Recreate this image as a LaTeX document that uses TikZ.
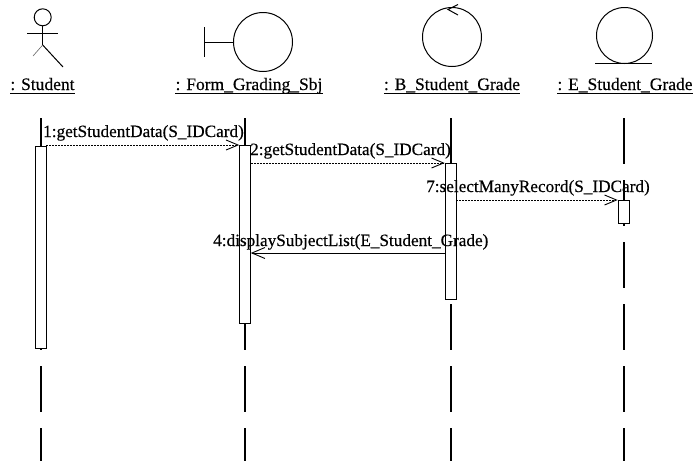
\documentclass[tikz,border=0pt]{standalone}
\usepackage{fontspec}
\setmainfont{Liberation Serif}
\newfontfamily\scanfont{Liberation Serif}[FakeBold=0.4]
\usetikzlibrary{arrows.meta}
\begin{document}
\begin{tikzpicture}[x=1pt,y=-1pt,
  lifeline/.style={line width=1.6pt, dash pattern=on 46pt off 16pt},
  actbox/.style={draw, line width=0.6pt, fill=white, minimum width=11pt, inner sep=0pt, anchor=north},
  icon/.style={line width=1pt},
  msgdash/.style={line width=0.7pt, dash pattern=on 2pt off 1pt, -{Straight Barb[length=12pt,width=10pt,line width=0.9pt]}},
  msgsolid/.style={line width=1pt, -{Straight Barb[length=13pt,width=11pt,line width=0.9pt]}},
  lbl/.style={font=\scanfont\fontsize{17.2}{19}\selectfont, inner sep=0pt, anchor=base west},
  hdr/.style={font=\scanfont\fontsize{17.5}{19}\selectfont, inner sep=0pt, anchor=base}]
\useasboundingbox (0,0) rectangle (697,461);

% ---- header icons ----
% actor
\draw[icon] (42.7,17.3) circle (8.5);
\draw[icon] (27,33) -- (58,33);
\draw[icon] (42.7,26) -- (42.7,45);
\draw[icon] (42.7,45) -- (63,67);
\draw[line width=0.6pt, black!60] (42.7,45) -- (33,56);
% boundary
\draw[icon] (263,42) circle (29.5);
\draw[icon] (204,27) -- (204,57);
\draw[line width=0.8pt] (204,42) -- (233.5,42);
% control
\draw[icon] (452,37) circle (29.5);
\draw[icon] (458,4.5) -- (448,9.5) -- (458,15);
% entity
\draw[icon] (624.5,35.5) circle (28);
\draw[icon] (595,63.5) -- (652,63.5);

% ---- header labels ----
\node[hdr] (nS) at (42.5,90) {: Student};
\node[hdr] (nF) at (249,90) {: Form\_Grading\_Sbj};
\node[hdr] (nB) at (452,90) {: B\_Student\_Grade};
\node[hdr] (nE) at (625,90) {: E\_Student\_Grade};
\foreach \n in {nS,nF,nB,nE}
  \draw[line width=0.8pt] ([yshift=-3pt]\n.base west) -- ([yshift=-3pt]\n.base east);

% ---- lifelines ----
\coordinate (sT) at (41,118);  \coordinate (sB) at (41,461);
\coordinate (fT) at (245,118); \coordinate (fB) at (245,461);
\coordinate (bT) at (451,118); \coordinate (bB) at (451,461);
\coordinate (eT) at (624,118); \coordinate (eB) at (624,461);
\draw[lifeline] (sT) -- (sB);
\draw[lifeline] (fT) -- (fB);
\draw[lifeline] (bT) -- (bB);
\draw[lifeline] (eT) -- (eB);

% ---- activation boxes ----
\node[actbox, minimum height=202pt] (aS) at (40.5,146) {};
\node[actbox, minimum height=178pt] (aF) at (245,145) {};
\node[actbox, minimum height=136pt] (aB) at (450.5,163) {};
\node[actbox, minimum height=23pt]  (aE) at (623.5,200) {};

% ---- messages ----
\coordinate (m1a) at (aS.east |- 0,145);
\coordinate (m1b) at (aF.west |- 0,145);
\coordinate (m2a) at (aF.east |- 0,163);
\coordinate (m2b) at (aB.west |- 0,163);
\coordinate (m7a) at (aB.east |- 0,200);
\coordinate (m7b) at (aE.west |- 0,200);
\coordinate (m4a) at (aB.west |- 0,253);
\coordinate (m4b) at (aF.east |- 0,253);

\draw[msgdash] (m1a) -- (m1b);
\draw[msgdash] (m2a) -- (m2b);
\draw[msgdash] (m7a) -- (m7b);
\draw[msgsolid] (m4a) -- (m4b);

\node[lbl] (l1) at (43,137) {1:getStudentData(S\_IDCard)};
\node[lbl] (l2) at (250,155) {2:getStudentData(S\_IDCard)};
\node[lbl] (l7) at (426,192) {7:selectManyRecord(S\_IDCard)};
\node[lbl] (l4) at (213,246) {4:displaySubjectList(E\_Student\_Grade)};
\end{tikzpicture}
\end{document}
